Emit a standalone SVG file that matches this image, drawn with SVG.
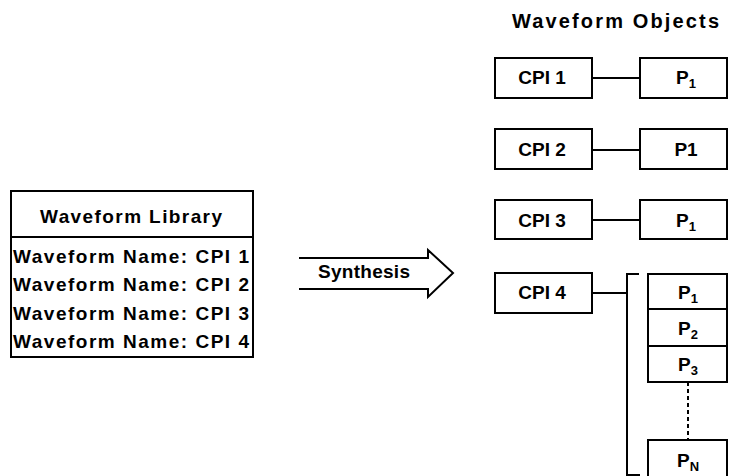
<svg xmlns="http://www.w3.org/2000/svg" width="729" height="476" viewBox="0 0 729 476">
<style>
  .box{fill:#fff;stroke:#000;stroke-width:2}
  .ln{fill:none;stroke:#000;stroke-width:2}
  text{font-family:"Liberation Sans",Arial,sans-serif;font-weight:bold;fill:#000}
  .t{font-size:19px}
  .h{font-size:20px}
  .c{text-anchor:middle}
  .sub{font-size:13px}
</style>
<rect width="729" height="476" fill="#fff"/>
<g id="library">
  <rect class="box" x="11" y="191" width="242" height="166"/>
  <line class="ln" x1="11" y1="237" x2="253" y2="237"/>
  <text class="t" x="40" y="223" textLength="182" lengthAdjust="spacing">Waveform Library</text>
  <text class="t" x="13" y="263" textLength="236" lengthAdjust="spacing">Waveform Name: CPI 1</text>
  <text class="t" x="13" y="291" textLength="236" lengthAdjust="spacing">Waveform Name: CPI 2</text>
  <text class="t" x="13" y="320" textLength="236" lengthAdjust="spacing">Waveform Name: CPI 3</text>
  <text class="t" x="13" y="348" textLength="236" lengthAdjust="spacing">Waveform Name: CPI 4</text>
</g>
<g id="synthesis">
  <path class="ln" d="M299 258 H428 V250 L453 273 L428 297 V289 H299"/>
  <text class="t" x="318" y="278" textLength="92" lengthAdjust="spacing">Synthesis</text>
</g>
<text class="h" x="512" y="28" textLength="207" lengthAdjust="spacing">Waveform Objects</text>
<g id="connectors">
  <line class="ln" x1="592" y1="78" x2="640" y2="78"/>
  <line class="ln" x1="592" y1="150" x2="640" y2="150"/>
  <line class="ln" x1="592" y1="220" x2="640" y2="220"/>
  <line class="ln" x1="592" y1="293" x2="627" y2="293"/>
  <path class="ln" d="M639 274 H627 V475 H640"/>
  <line class="ln" x1="688" y1="382" x2="688" y2="440" stroke-dasharray="4,3"/>
</g>
<g id="cpi1">
  <rect class="box" x="495" y="58" width="97" height="40"/>
  <text class="t c" x="542" y="84">CPI 1</text>
</g>
<g id="p1a">
  <rect class="box" x="640" y="58" width="87" height="40"/>
  <text class="t c" x="686" y="84">P<tspan class="sub" dy="4">1</tspan></text>
</g>
<g id="cpi2">
  <rect class="box" x="495" y="129" width="97" height="40"/>
  <text class="t c" x="542" y="156">CPI 2</text>
</g>
<g id="p1b">
  <rect class="box" x="640" y="129" width="87" height="40"/>
  <text class="t c" x="686" y="156">P1</text>
</g>
<g id="cpi3">
  <rect class="box" x="495" y="200" width="97" height="39"/>
  <text class="t c" x="542" y="227">CPI 3</text>
</g>
<g id="p1c">
  <rect class="box" x="640" y="200" width="87" height="39"/>
  <text class="t c" x="686" y="227">P<tspan class="sub" dy="4">1</tspan></text>
</g>
<g id="cpi4">
  <rect class="box" x="495" y="273" width="97" height="40"/>
  <text class="t c" x="542" y="299">CPI 4</text>
</g>
<g id="p4-1">
  <rect class="box" x="648" y="274" width="79" height="35"/>
  <text class="t c" x="688" y="299">P<tspan class="sub" dy="4">1</tspan></text>
</g>
<g id="p4-2">
  <rect class="box" x="648" y="309" width="79" height="37"/>
  <text class="t c" x="688" y="335">P<tspan class="sub" dy="4">2</tspan></text>
</g>
<g id="p4-3">
  <rect class="box" x="648" y="346" width="79" height="36"/>
  <text class="t c" x="688" y="371">P<tspan class="sub" dy="4">3</tspan></text>
</g>
<g id="p4-n">
  <rect class="box" x="648" y="440" width="79" height="40"/>
  <text class="t c" x="688" y="467">P<tspan class="sub" dy="4">N</tspan></text>
</g>
</svg>
